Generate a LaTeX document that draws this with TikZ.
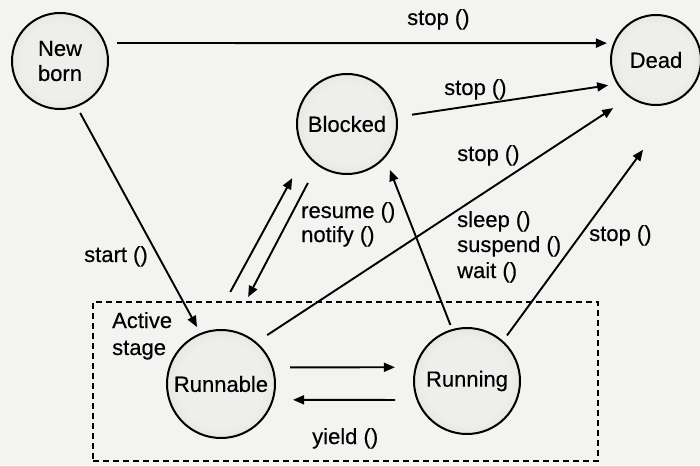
\documentclass[tikz,border=0pt]{standalone}
\usepackage{fontspec}
\setmainfont{Liberation Sans}[FakeBold=0.35]
\usetikzlibrary{arrows.meta}

\definecolor{paper}{HTML}{F3F3F1}
\definecolor{ringin}{HTML}{EEEEEC}
\definecolor{ringmid}{HTML}{D0D0CE}
\definecolor{ringout}{HTML}{B0B0AE}

% stippled-look disc: light centre, darker rim
\pgfdeclareradialshading{ringshade}{\pgfpoint{0bp}{0bp}}{%
  color(0bp)=(ringin); color(20bp)=(ringin); color(42bp)=(ringmid);
  color(50bp)=(ringout); color(60bp)=(ringout)}

\begin{document}
\begin{tikzpicture}[x=1pt, y=-1pt,
  font=\fontsize{22pt}{25pt}\selectfont,
  state/.style={circle, draw=black, line width=2pt, shading=ringshade,
    inner sep=0pt, outer sep=0pt, align=center},
  arr/.style={line width=1.9pt, -{Triangle[length=11pt,width=9pt]}},
  lbl/.style={anchor=base west, inner sep=0pt},
  stagebox/.style={draw=black, line width=1.5pt, dash pattern=on 6pt off 4pt,
    inner sep=0pt, outer sep=0pt}]

\fill[paper] (0,0) rectangle (700,465);
\useasboundingbox (0,0) rectangle (700,465);

% active stage frame
\node[stagebox, minimum width=505pt, minimum height=159pt] (active) at (345.5,381.5) {};

% thread states
\node[state, minimum size=96pt]  (newborn)  at (60,61)   {New\\born};
\node[state, minimum size=90pt]  (dead)     at (656,60)  {Dead};
\node[state, minimum size=100pt] (blocked)  at (347,124) {Blocked};
\node[state, minimum size=108pt] (runnable) at (221,384) {Runnable};
\node[state, minimum size=106pt] (running)  at (467,381) {Running};

% transitions
\draw[arr, shorten <=12.5pt, shorten >=7.3pt]  (newborn.22)   -- (dead.158);
\draw[arr, shorten <=15.6pt, shorten >=9.8pt]  (blocked.8)    -- (dead.212);
\draw[arr, shorten <=13.7pt, shorten >=20.4pt] (runnable.50)  -- (dead.235);
\draw[arr, shorten <=7.7pt,  shorten >=65.6pt] (running.48)   -- (dead.-55);
\draw[arr, shorten <=5.5pt,  shorten >=14.2pt] (running.106)  -- (blocked.-41);
\draw[arr, shorten <=7.8pt,  shorten >=7.9pt]  (newborn.-70)  -- (runnable.112);
\draw[arr, shorten <=44.9pt, shorten >=29pt]   (runnable.103) -- (blocked.215);
\draw[arr, shorten <=20.9pt, shorten >=38.2pt] (blocked.234)  -- (runnable.80);
\draw[arr, shorten <=17.7pt, shorten >=20.9pt] (runnable.18)  -- (running.165);
\draw[arr, shorten <=22.5pt, shorten >=20.4pt] (running.201)  -- (runnable.-17);

% method labels
\node[lbl] (lstopa)   at (407,25)  {stop ()};
\node[lbl] (lstopb)   at (444,95)  {stop ()};
\node[lbl] (lstopc)   at (457,161) {stop ()};
\node[lbl] (lstopd)   at (589,241) {stop ()};
\node[lbl] (lstart)   at (84,262)  {start ()};
\node[lbl] (lresume)  at (301,218) {resume ()};
\node[lbl] (lnotify)  at (301,242) {notify ()};
\node[lbl] (lsleep)   at (457,227) {sleep ()};
\node[lbl] (lsuspend) at (457,252) {suspend ()};
\node[lbl] (lwait)    at (457,278) {wait ()};
\node[lbl] (lactive)  at (112,328) {Active};
\node[lbl] (lstage)   at (112,355) {stage};
\node[lbl] (lyield)   at (312,444) {yield ()};
\end{tikzpicture}
\end{document}
